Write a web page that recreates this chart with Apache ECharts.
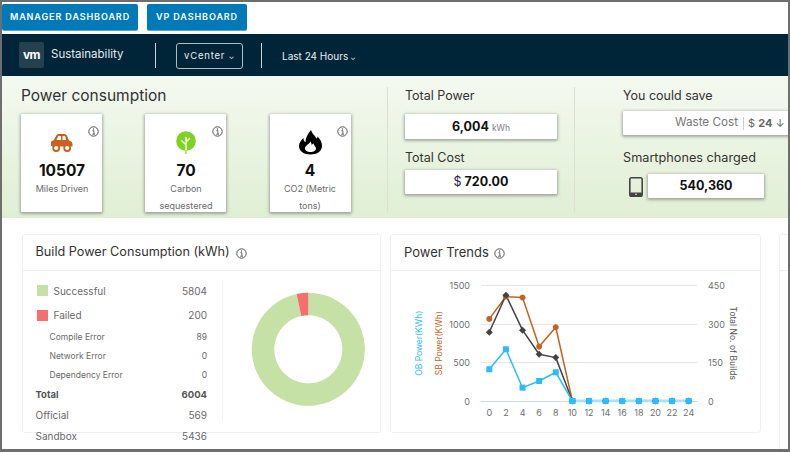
<!DOCTYPE html>
<html><head><meta charset="utf-8">
<script src="https://cdn.jsdelivr.net/npm/echarts@6/dist/echarts.min.js"></script>
<style>
html,body{margin:0;padding:0;width:790px;height:452px;overflow:hidden;background:#fff;font-family:Inter,"Open Sans",sans-serif;color:#333}
div.a,span.a,svg.a{position:absolute}
.t{position:absolute;white-space:nowrap;line-height:1;transform:translateY(-50%)}
.r{position:absolute;white-space:nowrap;line-height:1;transform:translate(-100%,-50%)}
.c{position:absolute;white-space:nowrap;line-height:1;transform:translate(-50%,-50%)}
.btn{position:absolute;top:4px;height:26px;background:#0079b8;color:#fff;border-radius:2px;font-size:9px;font-weight:600;letter-spacing:.9px;line-height:26px;text-align:center;box-shadow:0 1px 0 #5ba6cf}
.box{position:absolute;background:#fff;box-shadow:0 1px 3px 1px rgba(80,80,80,.45);border-radius:1px}
.card{position:absolute;background:#fff;border:1px solid #edf0f3;border-radius:3px;box-sizing:border-box}
.chev{font-size:7px}
</style></head><body>
<div class="btn" style="left:2px;width:136px">MANAGER DASHBOARD</div>
<div class="btn" style="left:147px;width:100px">VP DASHBOARD</div>

<div class="a" style="left:2px;top:34px;width:786px;height:42px;background:#002538"></div>
<div class="a" style="left:19px;top:42px;width:25px;height:26px;background:#25414f;border-radius:2px"></div>
<div class="c" style="left:31.5px;top:55px;font-size:12px;font-weight:700;color:#fff;letter-spacing:-.5px">vm</div>
<div class="t" style="left:51px;top:55px;font-size:11.5px;color:#e4eaee">Sustainability</div>
<div class="a" style="left:155px;top:43px;width:1px;height:25px;background:#c8d2d8"></div>
<div class="a" style="left:176px;top:43px;width:67px;height:26px;border:1px solid #aebcc4;border-radius:3px;box-sizing:border-box"></div>
<div class="c" style="left:209.5px;top:55.5px;font-size:9.5px;letter-spacing:.8px;color:#e9eef1">vCenter <span class="chev">⌄</span></div>
<div class="a" style="left:261px;top:43px;width:1px;height:25px;background:#c8d2d8"></div>
<div class="t" style="left:282px;top:55.5px;font-size:10px;color:#e9eef1">Last 24 Hours<span class="chev"> ⌄</span></div>

<div class="a" style="left:2px;top:76px;width:786px;height:141.5px;background:linear-gradient(#f4f9f0,#e0efd4)"></div>
<div class="t" style="left:21px;top:95.5px;font-size:15.5px;color:#333">Power consumption</div>
<div class="a" style="left:387px;top:87px;width:1px;height:125px;background:#dcdfd2"></div>
<div class="a" style="left:574px;top:87px;width:1px;height:125px;background:#dcdfd2"></div>

<div class="box" style="left:21px;top:114px;width:81px;height:98px"></div>
<div class="box" style="left:145px;top:114px;width:81px;height:98px"></div>
<div class="box" style="left:270px;top:114px;width:81px;height:98px"></div>

<svg class="a" style="left:50px;top:133px" width="23" height="19" viewBox="0 0 23 19"><path d="M1 13V9.5C1 8.5 2 8 3.5 7.6L6.5 2.3C7 1.4 8 1 9 1H14C15.5 1 16.5 1.7 17.2 3L19 7.5C21 8 22.5 9 22.5 11V13.5H20.5A3.6 3.6 0 0 0 14 13.5H9.5A3.6 3.6 0 0 0 3 13.5Z" fill="#c8611f"/><path d="M8.3 3H11V7H6.5ZM12.5 3H14.5C15.2 3 15.6 3.6 16 7H12.5Z" fill="#fff"/><circle cx="6.2" cy="15" r="3" fill="none" stroke="#c8611f" stroke-width="1.8"/><circle cx="17.2" cy="15" r="3" fill="none" stroke="#c8611f" stroke-width="1.8"/></svg>
<svg class="a" style="left:176px;top:131px" width="20" height="23" viewBox="0 0 20 23"><circle cx="10" cy="10" r="9.8" fill="#7ed321"/><path d="M10 23V6M10 14L5.5 9.5M10 11L14 7" stroke="#fff" stroke-width="1.4" fill="none"/><path d="M10 19V23" stroke="#a5e060" stroke-width="1.6"/></svg>
<svg class="a" style="left:299px;top:130px" width="23" height="25" viewBox="0 0 23 25"><path fill-rule="evenodd" d="M12 0C13 4 16 5 17 8C18 9 18.5 8 18.5 6.5C21.5 9.5 23 12.5 23 16C23 21 18 24.5 11.5 24.5C5 24.5 0 21 0 16C0 12.5 2.5 10 4.5 8C4.5 10 5 11.5 6.5 12C6.5 7.5 9 3.5 12 0ZM11.5 11.5C10.5 14 6 15.5 6 18.5C6 20.8 8.5 22 11.5 22C14.5 22 17 20.8 17 18.5C17 16.5 15 16 14.5 13.5C13.5 14 13 14.5 12.8 15C12.5 13.5 12 12.5 11.5 11.5Z" fill="#000"/></svg>

<div class="c" style="left:62px;top:171px;font-size:15.5px;font-weight:700;color:#111">10507</div>
<div class="c" style="left:62px;top:188px;font-size:9px;color:#6a6a6a">Miles Driven</div>
<div class="c" style="left:186px;top:171px;font-size:15.5px;font-weight:700;color:#111">70</div>
<div class="c" style="left:186px;top:188px;font-size:9px;color:#6a6a6a">Carbon</div>
<div class="c" style="left:186px;top:205px;font-size:9px;color:#6a6a6a">sequestered</div>
<div class="c" style="left:310px;top:171px;font-size:15.5px;font-weight:700;color:#111">4</div>
<div class="c" style="left:310px;top:188px;font-size:9px;color:#6a6a6a">CO2 (Metric</div>
<div class="c" style="left:310px;top:205px;font-size:9px;color:#6a6a6a">tons)</div>

<div class="t" style="left:405px;top:95.5px;font-size:12.5px;color:#333">Total Power</div>
<div class="box" style="left:405px;top:114px;width:152px;height:25px"></div>
<div class="c" style="left:481px;top:126.5px;font-size:12.5px;font-weight:700;color:#111">6,004 <span style="font-size:8.5px;font-weight:400;color:#778">kWh</span></div>
<div class="t" style="left:405px;top:157.5px;font-size:12.5px;color:#333">Total Cost</div>
<div class="box" style="left:405px;top:170px;width:152px;height:24px"></div>
<div class="c" style="left:481px;top:182px;font-size:12.5px;font-weight:700;color:#111"><span style="font-weight:400;color:#224">$</span> 720.00</div>

<div class="t" style="left:623px;top:95.5px;font-size:12.5px;color:#333">You could save</div>
<div class="box" style="left:623px;top:111px;width:166px;height:24px"></div>
<div class="t" style="left:675px;top:123px;font-size:11.7px;color:#777">Waste Cost</div>
<div class="a" style="left:743px;top:117px;width:1px;height:13px;background:#ccc"></div>
<div class="t" style="left:748px;top:123px;font-size:11px;color:#666">$ <b>24</b> ↓</div>
<div class="t" style="left:623px;top:158px;font-size:12.7px;color:#333">Smartphones charged</div>
<svg class="a" style="left:629px;top:177px" width="14" height="20" viewBox="0 0 14 20"><rect x=".8" y=".8" width="12.4" height="18.4" rx="1.8" fill="none" stroke="#444" stroke-width="1.6"/><path d="M1 15.5H13V18A1.5 1.5 0 0 1 11.5 19.2H2.5A1.5 1.5 0 0 1 1 18Z" fill="#444"/><circle cx="7" cy="17.3" r=".8" fill="#fff"/></svg>
<div class="box" style="left:648px;top:174px;width:116px;height:24px"></div>
<div class="c" style="left:706px;top:185.5px;font-size:12.5px;font-weight:700;color:#111">540,360</div>

<!-- lower cards -->
<div class="card" style="left:22px;top:234px;width:359px;height:199px"></div>
<div class="a" style="left:22px;top:270px;width:359px;height:1px;background:#edf0f3"></div>
<div class="t" style="left:35.5px;top:252px;font-size:12.7px;color:#333">Build Power Consumption (kWh)</div>
<div class="a" style="left:222px;top:279px;width:1px;height:141px;background:#f0f2f4"></div>

<div class="a" style="left:37px;top:285px;width:11px;height:11px;background:#c5e1a5"></div>
<div class="t" style="left:53.5px;top:290.5px;font-size:10px;color:#6a6a6a">Successful</div>
<div class="r" style="left:207px;top:290.5px;font-size:10px;color:#6a6a6a">5804</div>
<div class="a" style="left:37px;top:309.5px;width:11px;height:11px;background:#f56f6f"></div>
<div class="t" style="left:53.5px;top:315px;font-size:10px;color:#6a6a6a">Failed</div>
<div class="r" style="left:207px;top:315px;font-size:10px;color:#6a6a6a">200</div>
<div class="t" style="left:49.5px;top:336.5px;font-size:8.5px;color:#6a6a6a">Compile Error</div>
<div class="r" style="left:207px;top:336.5px;font-size:8.5px;color:#6a6a6a">89</div>
<div class="t" style="left:49.5px;top:355.5px;font-size:8.5px;color:#6a6a6a">Network Error</div>
<div class="r" style="left:207px;top:355.5px;font-size:8.5px;color:#6a6a6a">0</div>
<div class="t" style="left:49.5px;top:374.5px;font-size:8.5px;color:#6a6a6a">Dependency Error</div>
<div class="r" style="left:207px;top:374.5px;font-size:8.5px;color:#6a6a6a">0</div>
<div class="t" style="left:35.5px;top:395px;font-size:9.5px;font-weight:700;color:#555">Total</div>
<div class="r" style="left:207px;top:395px;font-size:9.5px;font-weight:700;color:#555">6004</div>
<div class="t" style="left:35.5px;top:415px;font-size:10px;color:#6a6a6a">Official</div>
<div class="r" style="left:207px;top:415px;font-size:10px;color:#6a6a6a">569</div>
<div class="t" style="left:35.5px;top:436px;font-size:10px;color:#6a6a6a">Sandbox</div>
<div class="r" style="left:207px;top:436px;font-size:10px;color:#6a6a6a">5436</div>

<div class="card" style="left:390px;top:234px;width:371px;height:199px"></div>
<div class="a" style="left:390px;top:270px;width:371px;height:1px;background:#edf0f3"></div>
<div class="t" style="left:404px;top:252px;font-size:13px;color:#333">Power Trends</div>

<div class="card" style="left:779px;top:234px;width:30px;height:230px"></div>
<div class="a" style="left:779px;top:270px;width:30px;height:1px;background:#edf0f3"></div>

<div id="infos"></div>

<div id="donut" class="a" style="left:223px;top:272px;width:156px;height:155px"></div>
<div id="trend" class="a" style="left:391px;top:272px;width:369px;height:160px"></div>

<div class="a" style="left:0;top:0;width:790px;height:452px;box-sizing:border-box;border:2px solid #6e6e6e;border-bottom-width:3px;pointer-events:none"></div>

<script>
// Donut values
var buildLabels = ['Successful', 'Failed'];
var buildPower = [5804, 200];
var buildColors = ['#c5e1a5', '#f56f6f'];

// Power Trends values
var hours = ['0','2','4','6','8','10','12','14','16','18','20','22','24'];
var sbPower = [1066, 1357, 1344, 707, 958, 0, 0, 0, 0, 0, 0, 0, 0];
var totalBuilds = [268, 412, 276, 182, 169, 0, 0, 0, 0, 0, 0, 0, 0];
var obPower = [412, 672, 173, 260, 373, 0, null, null, null, null, null, null, null];
var obPowerIdle = [null, null, null, null, null, 0, 0, 0, 0, 0, 0, 0, 0];

// Small info icons (page furniture, not chart marks)
var infoSpots = [[93.5,131],[217.5,131],[342.5,131],[241,253],[499,253]];
document.getElementById('infos').innerHTML = infoSpots.map(function (p) {
  return '<svg class="a" style="left:' + (p[0]-5.5) + 'px;top:' + (p[1]-5.5) + 'px" width="11" height="11" viewBox="0 0 11 11">' +
    '<circle cx="5.5" cy="5.5" r="4.7" fill="none" stroke="#555" stroke-width="1"/>' +
    '<path d="M4.4 4.7H5.9V8M4.2 8.2H7" fill="none" stroke="#555" stroke-width=".9"/><circle cx="5.5" cy="3" r=".7" fill="#555"/></svg>';
}).join('');

var donut = echarts.init(document.getElementById('donut'), null, {renderer: 'svg'});
donut.setOption({
  animation: false,
  series: [{
    type: 'pie',
    center: [85.3, 77.3],
    radius: [34, 56.5],
    startAngle: 90,
    clockwise: true,
    label: {show: false},
    labelLine: {show: false},
    data: buildLabels.map(function (n, i) {
      return {name: n, value: buildPower[i], itemStyle: {color: buildColors[i]}};
    })
  }]
});

var OB = '#2bbcff', SB = '#c8611f', TOTAL = '#434348', TICK = '#707070';
var trend = echarts.init(document.getElementById('trend'), null, {renderer: 'svg'});
function valueAxis(opts) {
  return Object.assign({
    type: 'value', min: 0,
    nameLocation: 'middle',
    nameMoveOverlap: false,
    axisLine: {show: false}, axisTick: {show: false},
    axisLabel: {color: TICK, fontSize: 9, margin: 11, fontFamily: 'Inter', formatter: function (v) { return String(v); }},
    splitLine: {show: false}
  }, opts);
}
trend.setOption({
  animation: false,
  grid: {left: 90, right: 63, top: 13.5, bottom: 31, containLabel: false},
  xAxis: {
    type: 'category', data: hours, boundaryGap: true,
    axisLine: {lineStyle: {color: '#ccd6eb', width: 1}},
    axisTick: {show: false},
    axisLabel: {color: TICK, fontSize: 9, margin: 7, interval: 0, fontFamily: 'Inter'}
  },
  yAxis: [
    valueAxis({max: 1500, interval: 500, position: 'left',
      name: 'SB Power(KWh)', nameGap: 38, nameTextStyle: {color: SB, fontSize: 8.5, fontFamily: 'Inter'},
      splitLine: {show: true, lineStyle: {color: '#e6e6e6', width: 1}}}),
    valueAxis({max: 450, interval: 150, position: 'right',
      name: 'Total No. of Builds', nameGap: 31, nameRotate: -90, nameTextStyle: {color: '#555', fontSize: 8.5, fontFamily: 'Inter'}}),
    valueAxis({max: 1500, interval: 500, position: 'left',
      axisLabel: {show: false},
      name: 'OB Power(KWh)', nameGap: 58, nameTextStyle: {color: OB, fontSize: 8.5, fontFamily: 'Inter'}})
  ],
  series: [
    {name: 'SB Power', type: 'line', yAxisIndex: 0, data: sbPower, symbol: 'circle', symbolSize: 6, showAllSymbol: true,
      itemStyle: {color: SB}, lineStyle: {color: SB, width: 1.5}},
    {name: 'Total Builds', type: 'line', yAxisIndex: 1, data: totalBuilds, symbol: 'diamond', symbolSize: 7, showAllSymbol: true,
      itemStyle: {color: TOTAL}, lineStyle: {color: TOTAL, width: 1.5}},
    {name: 'OB Power idle', type: 'line', yAxisIndex: 0, data: obPowerIdle, symbol: 'rect', symbolSize: 6, showAllSymbol: true,
      itemStyle: {color: OB}, lineStyle: {color: '#a6e0fa', width: 3}},
    {name: 'OB Power', type: 'line', yAxisIndex: 0, data: obPower, symbol: 'rect', symbolSize: 6, showAllSymbol: true,
      itemStyle: {color: OB}, lineStyle: {color: OB, width: 1.5}}
  ]
});
</script>
</body></html>
